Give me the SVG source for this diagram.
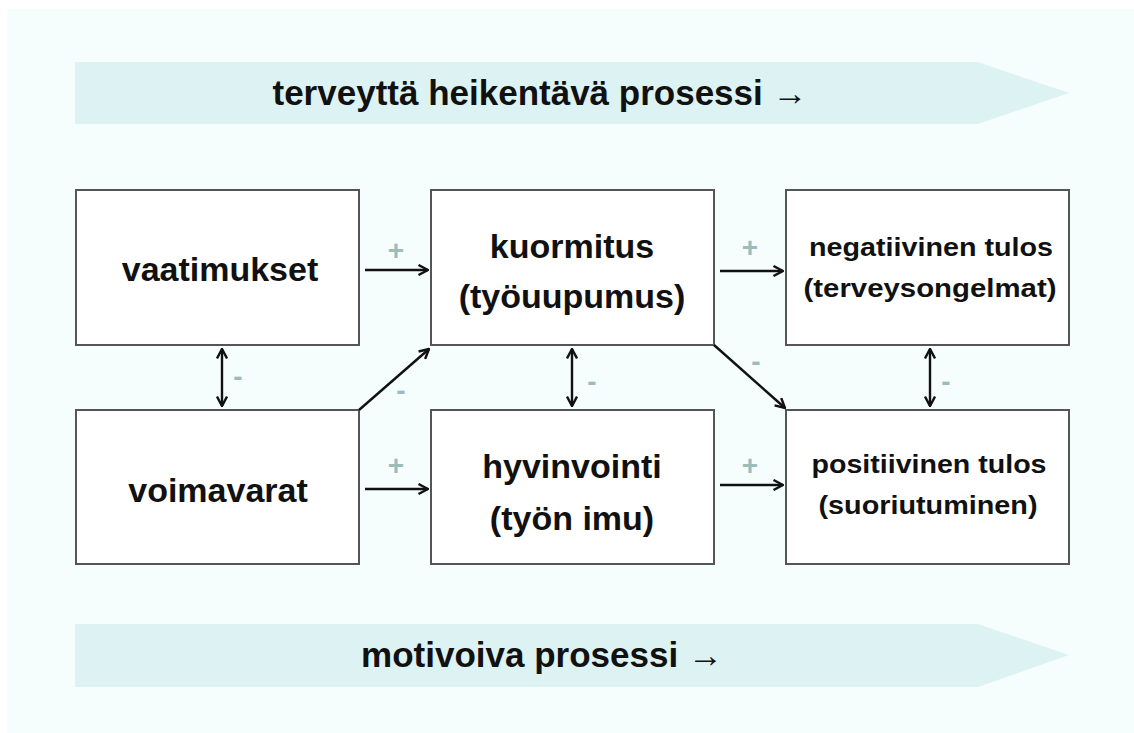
<svg xmlns="http://www.w3.org/2000/svg" width="1134" height="733" viewBox="0 0 1134 733">
<style>
.bg{fill:#f5fdfd}
.band{fill:#ddf3f3}
.box{fill:#fff;stroke:#555;stroke-width:2}
.t{font-family:"Liberation Sans",Arial,sans-serif;font-weight:bold;fill:#111;text-anchor:middle}
.big{font-size:34px}
.sm{font-size:25px}
.ban{font-size:35px}
.lbl{font-family:"Liberation Sans",Arial,sans-serif;font-weight:bold;font-size:28px;fill:#9cbcbc;text-anchor:middle}
.c{stroke:#111;stroke-width:2.4;fill:none}
</style>
<defs>
<marker id="ah" viewBox="0 0 12 12" refX="11" refY="6" markerWidth="12" markerHeight="12" markerUnits="userSpaceOnUse" orient="auto-start-reverse">
<path d="M1.5,1 L11,6 L1.5,11" fill="none" stroke="#111" stroke-width="2.4"/>
</marker>
</defs>
<rect class="bg" x="7" y="9" width="1127" height="724"/>
<g id="banner-top">
<polygon class="band" points="75,62 978,62 1069,93 978,124 75,124"/>
<text class="t ban" x="540" y="105">terveyttä heikentävä prosessi →</text>
</g>
<g id="banner-bottom">
<polygon class="band" points="75,624 978,624 1069,655 978,687 75,687"/>
<text class="t ban" x="542" y="667">motivoiva prosessi →</text>
</g>
<g id="vaatimukset">
<rect class="box" x="76" y="190" width="283" height="155"/>
<text class="t big" x="220" y="281">vaatimukset</text>
</g>
<g id="kuormitus">
<rect class="box" x="431" y="190" width="283" height="155"/>
<text class="t big" x="572" y="258">kuormitus</text>
<text class="t big" x="572" y="308">(työuupumus)</text>
</g>
<g id="negatiivinen">
<rect class="box" x="786" y="190" width="283" height="155"/>
<text class="t sm" x="931" y="256" textLength="244" lengthAdjust="spacingAndGlyphs">negatiivinen tulos</text>
<text class="t sm" x="930" y="297" textLength="253" lengthAdjust="spacingAndGlyphs">(terveysongelmat)</text>
</g>
<g id="voimavarat">
<rect class="box" x="76" y="410" width="283" height="154"/>
<text class="t big" x="218" y="502">voimavarat</text>
</g>
<g id="hyvinvointi">
<rect class="box" x="431" y="410" width="283" height="154"/>
<text class="t big" x="572" y="478">hyvinvointi</text>
<text class="t big" x="572" y="530">(työn imu)</text>
</g>
<g id="positiivinen">
<rect class="box" x="786" y="410" width="283" height="154"/>
<text class="t sm" x="929" y="473" textLength="235" lengthAdjust="spacingAndGlyphs">positiivinen tulos</text>
<text class="t sm" x="928" y="514" textLength="219" lengthAdjust="spacingAndGlyphs">(suoriutuminen)</text>
</g>
<g id="connectors">
<line class="c" x1="365" y1="270" x2="428" y2="270" marker-end="url(#ah)"/>
<line class="c" x1="720" y1="271" x2="783" y2="271" marker-end="url(#ah)"/>
<line class="c" x1="365" y1="489" x2="428" y2="489" marker-end="url(#ah)"/>
<line class="c" x1="720" y1="485" x2="783" y2="485" marker-end="url(#ah)"/>
<line class="c" x1="222" y1="349" x2="222" y2="406" marker-start="url(#ah)" marker-end="url(#ah)"/>
<line class="c" x1="572" y1="349" x2="572" y2="406" marker-start="url(#ah)" marker-end="url(#ah)"/>
<line class="c" x1="930" y1="349" x2="930" y2="406" marker-start="url(#ah)" marker-end="url(#ah)"/>
<line class="c" x1="359" y1="410" x2="429" y2="349" marker-end="url(#ah)"/>
<line class="c" x1="714" y1="345" x2="785" y2="408" marker-end="url(#ah)"/>
<text class="lbl" x="396" y="260">+</text>
<text class="lbl" x="750" y="257">+</text>
<text class="lbl" x="396" y="475">+</text>
<text class="lbl" x="750" y="475">+</text>
<text class="lbl" x="238" y="386">-</text>
<text class="lbl" x="592" y="391">-</text>
<text class="lbl" x="946" y="391">-</text>
<text class="lbl" x="401" y="400">-</text>
<text class="lbl" x="756" y="371">-</text>
</g>
</svg>
